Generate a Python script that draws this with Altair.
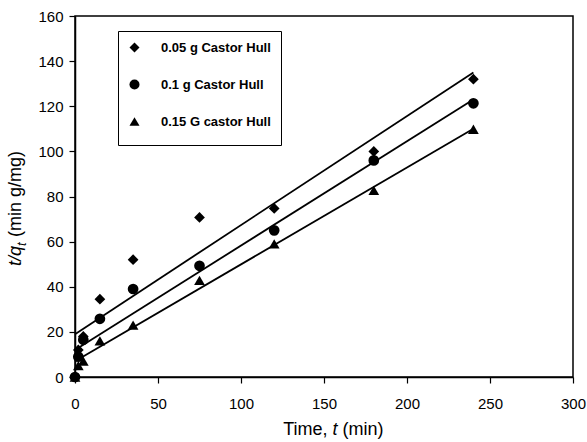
import altair as alt
import pandas as pd

# ---- data ----
times = [0, 2, 5, 15, 35, 75, 120, 180, 240]
series_names = ["0.05 g Castor Hull", "0.1 g Castor Hull", "0.15 G castor Hull"]
vals_005 = [0, 12, 18, 34.5, 52, 70.7, 74.7, 100, 132]
vals_010 = [0, 9, 16.5, 25.8, 39, 49.3, 65, 96, 121.3]
vals_015 = [0, 5, 7, 16, 23, 42.8, 59, 82.7, 109.8]

# fitted straight lines (pseudo-second-order fits), end points
line_t = [0, 240]
line_005 = [19, 135]
line_010 = [12, 123]
line_015 = [7, 110]

x_ticks = [0, 50, 100, 150, 200, 250, 300]
y_ticks = [0, 20, 40, 60, 80, 100, 120, 140, 160]

FONT = "Liberation Sans"
NB = "\u00a0"

pts = pd.DataFrame(
    [{"t": t, "v": v, "s": series_names[0]} for t, v in zip(times, vals_005)]
    + [{"t": t, "v": v, "s": series_names[1]} for t, v in zip(times, vals_010)]
    + [{"t": t, "v": v, "s": series_names[2]} for t, v in zip(times, vals_015)]
)
lines = pd.DataFrame(
    [{"t": t, "v": v, "s": series_names[0]} for t, v in zip(line_t, line_005)]
    + [{"t": t, "v": v, "s": series_names[1]} for t, v in zip(line_t, line_010)]
    + [{"t": t, "v": v, "s": series_names[2]} for t, v in zip(line_t, line_015)]
)

xscale = alt.Scale(domain=[0, 300], nice=False, zero=False)
yscale = alt.Scale(domain=[0, 160], nice=False, zero=False)

xaxis = alt.Axis(values=x_ticks, title=None, grid=False, tickSize=6, labelPadding=13,
                 labelFontSize=15, labelFont=FONT, labelColor="black", labelFlush=False,
                 domainColor="black", tickColor="black", domainWidth=1.5, tickWidth=1.2)
yaxis = alt.Axis(values=y_ticks, title=None, grid=False, tickSize=6, labelPadding=6,
                 labelFontSize=15, labelFont=FONT, labelColor="black", labelFlush=False,
                 domainColor="black", tickColor="black", domainWidth=1.5, tickWidth=1.2)

line_layer = alt.Chart(lines).mark_line(color="black", strokeWidth=1.8).encode(
    x=alt.X("t:Q", scale=xscale, axis=xaxis),
    y=alt.Y("v:Q", scale=yscale, axis=yaxis),
    detail="s:N",
)

point_layer = alt.Chart(pts).mark_point(filled=True, color="black", opacity=1, size=115).encode(
    x=alt.X("t:Q", scale=xscale),
    y=alt.Y("v:Q", scale=yscale),
    shape=alt.Shape(
        "s:N",
        scale=alt.Scale(domain=series_names, range=["diamond", "circle", "triangle-up"]),
        legend=alt.Legend(
            # invisible spacer title at the bottom: widens the box and adds bottom margin
            title=NB * 92,
            titleOrient="bottom",
            titleFontSize=6,
            titlePadding=0,
            titleLimit=400,
            orient="none",
            legendX=43,
            legendY=15,
            padding=10,
            labelOffset=20,
            rowPadding=23,
            strokeColor="black",
            fillColor="white",
            labelFont=FONT,
            labelFontSize=13,
            labelFontWeight="bold",
            labelColor="black",
            symbolFillColor="black",
            symbolStrokeWidth=0,
            symbolSize=100,
            labelLimit=400,
        ),
    ),
)

one = alt.Data(values=[{"a": 1}])

def txt(s, x, y, size=18, style="normal", align="left", angle=0):
    return alt.Chart(one).mark_text(
        text=s, font=FONT, fontSize=size, fontStyle=style, align=align,
        baseline="alphabetic", angle=angle, color="black"
    ).encode(x=alt.value(x), y=alt.value(y))

# x-axis title: "Time, t (min)" with italic t
xt1 = txt("Time,", 252.5, 419, align="right")
xt2 = txt("t", 257.5, 419, style="italic")
xt3 = txt("(min)", 267.5, 419)

# y-axis title: "t/q_t (min g/mg)" rotated
YB = 250
yt1 = txt("t/q", -54, YB, style="italic", angle=270)
yt2 = txt("t", -49.5, YB - 20, size=13, style="italic", angle=270)
yt3 = txt("(min g/mg)", -54, YB - 29, angle=270)

chart = alt.layer(line_layer, point_layer, xt1, xt2, xt3, yt1, yt2, yt3).properties(
    width=498,
    height=361,
    autosize=alt.AutoSizeParams(type="none"),
    padding={"left": 75, "top": 16, "right": 14, "bottom": 65},
    background="white",
).configure_view(stroke="black", strokeWidth=1.5)

chart.save("out.html", embed_options={"renderer": "svg", "actions": False})
